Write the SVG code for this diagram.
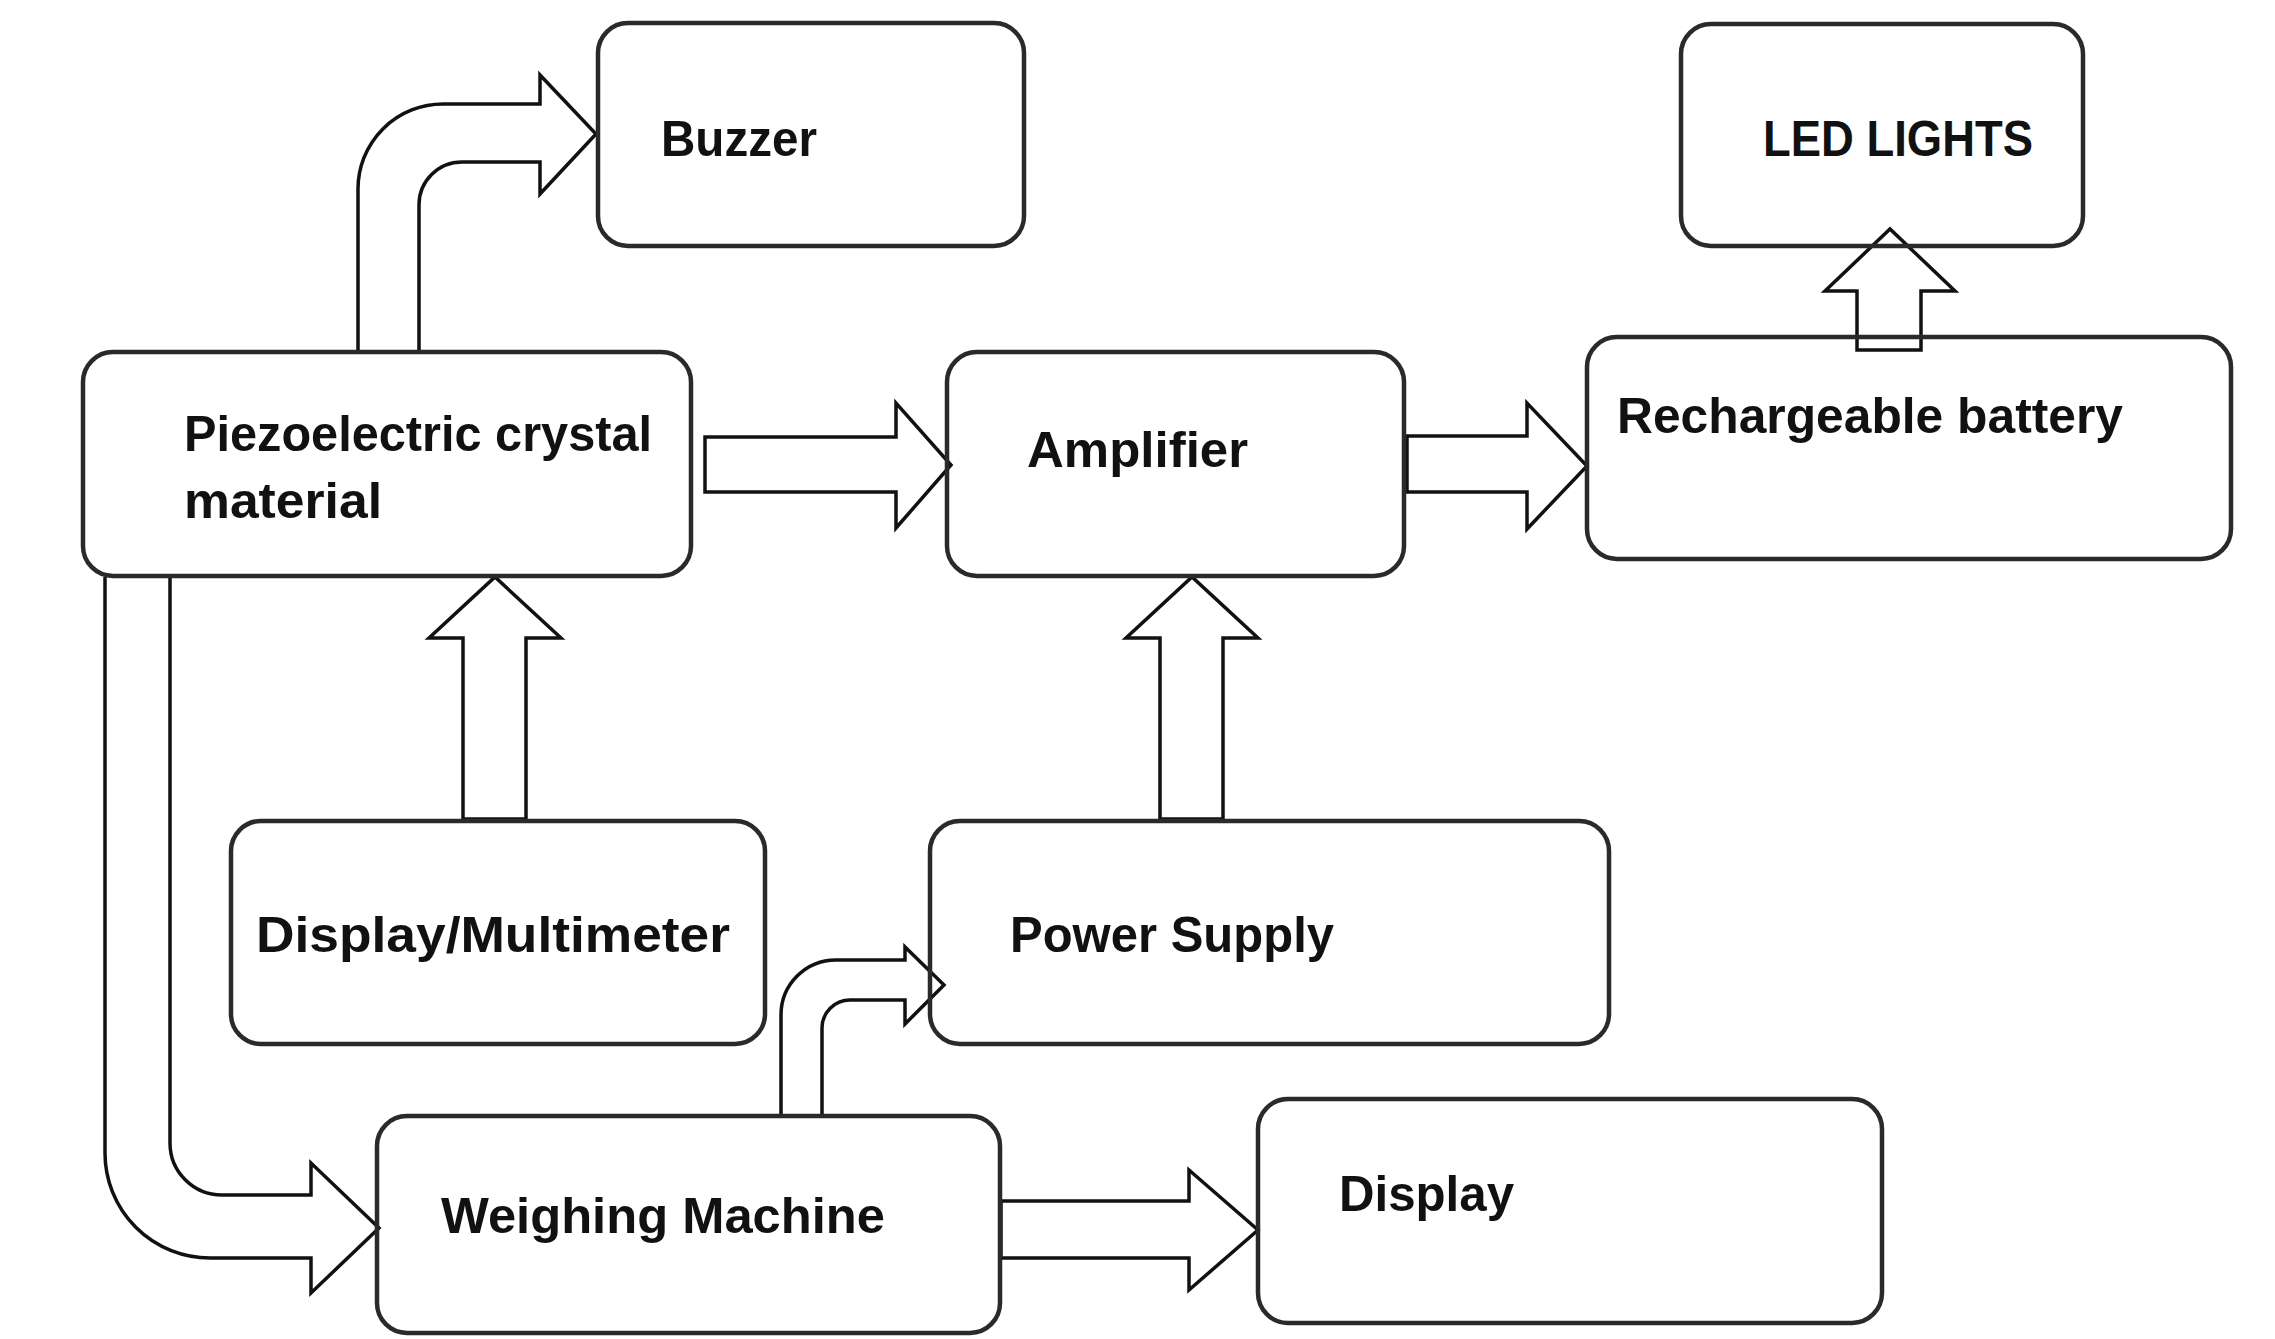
<svg xmlns="http://www.w3.org/2000/svg" width="2275" height="1339" viewBox="0 0 2275 1339">
<style>
.box{fill:none;stroke:#2a2a2a;stroke-width:4.5}
.arr{fill:#fff;stroke:#111;stroke-width:3.5;stroke-linejoin:miter}
.lbl{font-family:"Liberation Sans",Arial,sans-serif;font-weight:bold;font-size:50px;fill:#111}
</style>
<rect width="2275" height="1339" fill="#fff"/>
<g id="connectors">
<path class="arr" d="M705,437 L896,437 L896,403 L951,465 L896,528 L896,492 L705,492 Z"/>
<path class="arr" d="M1407,436 L1527,436 L1527,403 L1587,466 L1527,529 L1527,492 L1407,492 Z"/>
<path class="arr" d="M1001,1201 L1189,1201 L1189,1170 L1258,1230 L1189,1290 L1189,1258 L1001,1258 Z"/>
<path class="arr" d="M463,819 L463,638 L429,638 L495,577 L561,638 L526,638 L526,819 Z"/>
<path class="arr" d="M1160,819 L1160,638 L1126,638 L1192,577 L1258,638 L1223,638 L1223,819 Z"/>
<path class="arr" d="M1857,350 L1857,291 L1825,291 L1890,229 L1955,291 L1921,291 L1921,350 Z"/>
<path class="arr" d="M358,352 L358,189 A85,85 0 0 1 443,104 L540,104 L540,75 L596,134 L540,194 L540,162 L462,162 A43,43 0 0 0 419,205 L419,352"/>
<path class="arr" d="M781,1116 L781,1015 A55,55 0 0 1 836,960 L905,960 L905,947 L944,985 L905,1024 L905,1000 L850,1000 A28,28 0 0 0 822,1028 L822,1116"/>
<path class="arr" d="M105,577 L105,1153 A105,105 0 0 0 210,1258 L311,1258 L311,1293 L379,1228 L311,1163 L311,1195 L222,1195 A52,52 0 0 1 170,1143 L170,577"/>
</g>
<g id="buzzer"><rect class="box" x="598" y="23" width="426" height="223" rx="30"/><text class="lbl" x="661" y="156" textLength="156" lengthAdjust="spacingAndGlyphs">Buzzer</text></g>
<g id="led"><rect class="box" x="1681" y="24" width="402" height="222" rx="30"/><text class="lbl" x="1763" y="156" textLength="270" lengthAdjust="spacingAndGlyphs">LED LIGHTS</text></g>
<g id="piezo"><rect class="box" x="83" y="352" width="608" height="224" rx="30"/><text class="lbl" x="184" y="451" textLength="468" lengthAdjust="spacingAndGlyphs">Piezoelectric crystal</text><text class="lbl" x="184" y="518" textLength="198" lengthAdjust="spacingAndGlyphs">material</text></g>
<g id="amplifier"><rect class="box" x="947" y="352" width="457" height="224" rx="30"/><text class="lbl" x="1027" y="467" textLength="221" lengthAdjust="spacingAndGlyphs">Amplifier</text></g>
<g id="battery"><rect class="box" x="1587" y="337" width="644" height="222" rx="30"/><text class="lbl" x="1617" y="433" textLength="506" lengthAdjust="spacingAndGlyphs">Rechargeable battery</text></g>
<g id="multimeter"><rect class="box" x="231" y="821" width="534" height="223" rx="30"/><text class="lbl" x="256" y="952" textLength="474" lengthAdjust="spacingAndGlyphs">Display/Multimeter</text></g>
<g id="power"><rect class="box" x="930" y="821" width="679" height="223" rx="30"/><text class="lbl" x="1010" y="952" textLength="324" lengthAdjust="spacingAndGlyphs">Power Supply</text></g>
<g id="weighing"><rect class="box" x="377" y="1116" width="623" height="217" rx="30"/><text class="lbl" x="441" y="1233" textLength="444" lengthAdjust="spacingAndGlyphs">Weighing Machine</text></g>
<g id="display"><rect class="box" x="1258" y="1099" width="624" height="224" rx="30"/><text class="lbl" x="1339" y="1211" textLength="175" lengthAdjust="spacingAndGlyphs">Display</text></g>
</svg>
